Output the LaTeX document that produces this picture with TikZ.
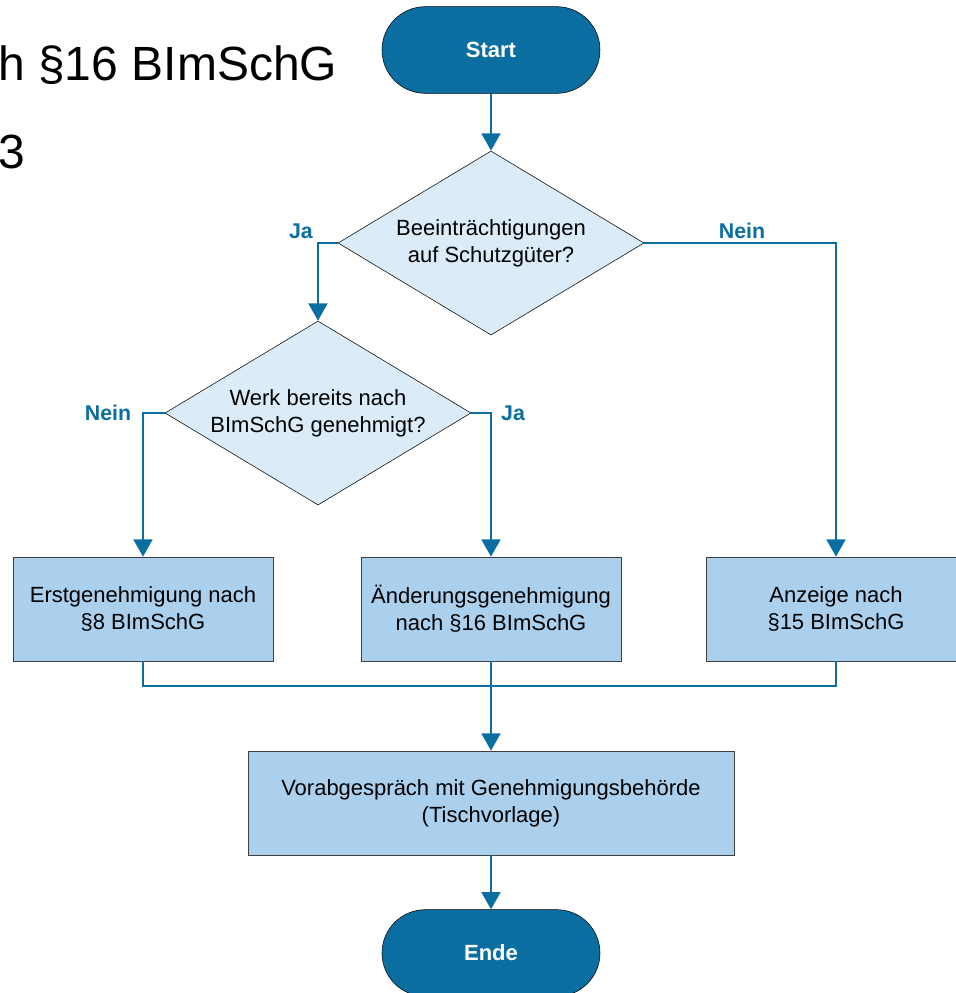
\documentclass[tikz,border=0pt]{standalone}
\usepackage{fontspec}
\setmainfont{Liberation Sans}
\usepackage{tikz}
\usetikzlibrary{shapes.geometric, arrows.meta}
\usepackage{xcolor}
\definecolor{flowblue}{RGB}{10,110,160}
\definecolor{diafill}{RGB}{220,235,248}
\definecolor{boxfill}{RGB}{170,208,238}

\begin{document}
\begin{tikzpicture}[x=0.75pt, y=-0.75pt,
    txt/.style={font=\fontsize{16.5}{20.5}\selectfont, align=center},
    terminal/.style={txt, draw=black, fill=flowblue, text=white, font=\fontsize{16.5}{20.5}\selectfont\bfseries,
        rounded corners=32.5pt, minimum width=163.5pt, minimum height=65pt},
    decision/.style={txt, shape=diamond, draw=black, fill=diafill, inner sep=0pt, aspect=1.66,
        minimum width=229.5pt, minimum height=138pt},
    process/.style={txt, draw=black!75, fill=boxfill, minimum width=195pt, minimum height=78pt},
    flow/.style={draw=flowblue, line width=2.2pt, -{Triangle[length=13pt,width=14pt]}},
    joinline/.style={draw=flowblue, line width=2pt},
    answer/.style={text=flowblue, font=\fontsize{16}{19}\selectfont\bfseries}]
    \useasboundingbox (0,0) rectangle (956,993);
    % Titel (abgeschnitten)
    \node (titel) [anchor=base west, inner sep=0pt, font=\fontsize{36}{42}\selectfont] at (-2,80) {h §16 BImSchG};
    \node (titelb) [anchor=base west, inner sep=0pt, font=\fontsize{36}{42}\selectfont] at (-1.5,168) {3};
    % Knoten
    \node (start) [terminal] at (491,50) {Start};
    \node (frage1) [decision] at (491,243) {Beeinträchtigungen\\auf Schutzgüter?};
    \node (frage2) [decision] at (318,413) {Werk bereits nach\\BImSchG genehmigt?};
    \node (erst) [process] at (143,609) {Erstgenehmigung nach\\§8 BImSchG};
    \node (aend) [process] at (491,609) {Änderungsgenehmigung\\nach §16 BImSchG};
    \node (anz) [process] at (836,609) {Anzeige nach\\§15 BImSchG};
    \node (vorab) [process, minimum width=364.5pt] at (491,803) {Vorabgespräch mit Genehmigungsbehörde\\(Tischvorlage)};
    \node (ende) [terminal] at (491,953) {Ende};
    % Antworten
    \node (ja1) [answer] at (301,231) {Ja};
    \node (nein1) [answer] at (742,231) {Nein};
    \node (nein2) [answer] at (108,413) {Nein};
    \node (ja2) [answer] at (513,413) {Ja};
    % Verbindungen
    \draw[flow] (start) -- (frage1);
    \draw[flow] (frage1.west) -| (frage2.north);
    \draw[flow] (frage1.east) -| (anz.north);
    \draw[flow] (frage2.west) -| (erst.north);
    \draw[flow] (frage2.east) -| (aend.north);
    \coordinate (sammel) at (491,686);
    \draw[joinline] (erst.south) |- (sammel) -| (anz.south);
    \draw[flow] (aend.south) -- (vorab.north);
    \draw[flow] (vorab) -- (ende);
\end{tikzpicture}
\end{document}
